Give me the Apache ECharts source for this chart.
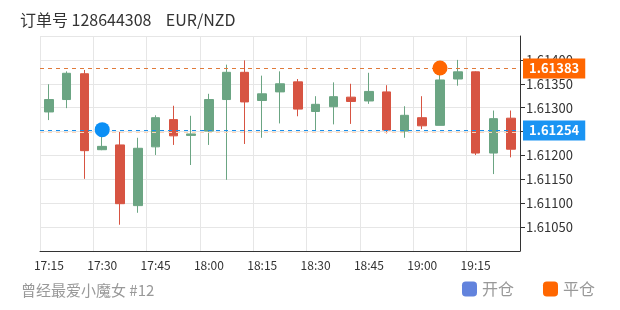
<!DOCTYPE html>
<html><head><meta charset="utf-8">
<script src="https://cdn.jsdelivr.net/npm/echarts@6/dist/echarts.min.js"></script>
<style>html,body{margin:0;padding:0;background:#fff}#c{width:620px;height:310px}</style>
</head><body><div id="c"></div>
<script>
const times = ['17:15','17:20','17:25','17:30','17:35','17:40','17:45','17:50','17:55','18:00','18:05','18:10','18:15','18:20','18:25','18:30','18:35','18:40','18:45','18:50','18:55','19:00','19:05','19:10','19:15','19:20','19:25'];
// [open, close, low, high]
const candles = [
  [1.61291,1.61317,1.61274,1.61349],
  [1.61317,1.61372,1.61299,1.61376],
  [1.61371,1.61210,1.61151,1.61379],
  [1.61212,1.61219,1.61211,1.61240],
  [1.61222,1.61099,1.61055,1.61249],
  [1.61095,1.61215,1.61080,1.61237],
  [1.61218,1.61279,1.61201,1.61284],
  [1.61275,1.61241,1.61222,1.61304],
  [1.61242,1.61245,1.61180,1.61283],
  [1.61251,1.61317,1.61222,1.61329],
  [1.61317,1.61374,1.61149,1.61390],
  [1.61374,1.61312,1.61224,1.61399],
  [1.61315,1.61329,1.61237,1.61367],
  [1.61333,1.61350,1.61267,1.61376],
  [1.61354,1.61297,1.61282,1.61360],
  [1.61292,1.61307,1.61251,1.61324],
  [1.61302,1.61323,1.61265,1.61353],
  [1.61322,1.61313,1.61266,1.61350],
  [1.61314,1.61334,1.61308,1.61373],
  [1.61333,1.61253,1.61246,1.61347],
  [1.61251,1.61284,1.61237,1.61303],
  [1.61279,1.61262,1.61255,1.61324],
  [1.61263,1.61358,1.61263,1.61378],
  [1.61360,1.61375,1.61346,1.61400],
  [1.61375,1.61205,1.61201,1.61376],
  [1.61205,1.61277,1.61161,1.61294],
  [1.61278,1.61213,1.61196,1.61294]
];
const openIndex = 3, openPrice = 1.61254;
const closeIndex = 22, closePrice = 1.61383;
const faintLine = 1.61249;
const yMin = 1.61000, yMax = 1.61450, yStep = 0.0005;

const chart = echarts.init(document.getElementById('c'));
const FONT = '"Noto Sans CJK SC","Noto Sans",sans-serif';
const GRID = {left: 40, right: 100, top: 36, bottom: 59};
chart.setOption({
  animation: false,
  title: [
    {text: '订单号 128644308    EUR/NZD', left: 15, top: 7,
     textStyle: {fontSize: 16, fontWeight: 'normal', color: '#333', fontFamily: FONT}},
    {text: '曾经最爱小魔女 #12', left: 16, bottom: 7,
     textStyle: {fontSize: 15, fontWeight: 'normal', color: '#999', fontFamily: FONT}}
  ],
  legend: {
    right: 20, bottom: 8, icon: 'roundRect', itemWidth: 15, itemHeight: 15, itemGap: 29,
    textStyle: {fontSize: 16, color: '#999', fontFamily: FONT},
    data: [{name: '开仓', itemStyle: {color: '#6283dd'}}, {name: '平仓', itemStyle: {color: '#ff6600'}}]
  },
  grid: GRID,
  xAxis: {
    type: 'category', data: times, boundaryGap: true,
    axisLine: {lineStyle: {color: '#333'}},
    axisTick: {alignWithLabel: true, interval: 2, length: 5, lineStyle: {color: '#333'}},
    axisLabel: {interval: 2, color: '#333', fontSize: 12, margin: 8, fontFamily: FONT},
    splitLine: {show: true, interval: 2, lineStyle: {color: '#e6e6e6'}}
  },
  yAxis: {
    type: 'value', position: 'right', min: yMin, max: yMax, interval: yStep,
    axisLine: {show: true, lineStyle: {color: '#333'}},
    axisTick: {show: true, length: 5, lineStyle: {color: '#333'}},
    axisLabel: {showMinLabel: false, showMaxLabel: false, color: '#333', fontSize: 13, margin: 6,
      fontFamily: FONT, formatter: v => v.toFixed(5)},
    splitLine: {show: true, lineStyle: {color: '#e6e6e6'}}
  },
  series: [
    {
      type: 'candlestick', name: 'k', data: candles, barWidth: 9,
      itemStyle: {color: '#6ba583', color0: '#d75442', borderColor: '#6ba583', borderColor0: '#d75442'}
    },
    {type: 'scatter', name: '开仓', data: [[openIndex, openPrice]], symbolSize: 15, z: 5,
     itemStyle: {color: '#0b8ff5', opacity: 1}},
    {type: 'scatter', name: '平仓', data: [[closeIndex, closePrice]], symbolSize: 15, z: 5,
     itemStyle: {color: '#ff6600', opacity: 1}}
  ]
});

// horizontal price lines + tags, positioned through the y axis scale
const W = chart.getWidth();
const x0 = GRID.left, x1 = W - GRID.right;
function priceLine(v, color, tagBg, withTag) {
  const y = Math.round(chart.convertToPixel({yAxisIndex: 0}, v)) + 0.5;
  const els = [{type: 'line', z: 3, silent: true,
    shape: {x1: x0, y1: y, x2: x1, y2: y},
    style: {stroke: color, lineWidth: 1, lineDash: [4, 4]}}];
  if (withTag) {
    els.push({type: 'text', z: 10, silent: true, x: x1 + 3, y: y,
      style: {text: v.toFixed(5), fill: '#fff', font: 'bold 13px ' + FONT,
        backgroundColor: tagBg, padding: [4, 6, 3, 6], verticalAlign: 'middle', align: 'left'}});
  }
  return els;
}
chart.setOption({graphic: [].concat(
  priceLine(faintLine, '#fbd5b8', null, false),
  priceLine(openPrice, '#1a8fe8', '#1a94f3', true),
  priceLine(closePrice, '#e07a3a', '#ff6600', true)
)});
</script></body></html>
